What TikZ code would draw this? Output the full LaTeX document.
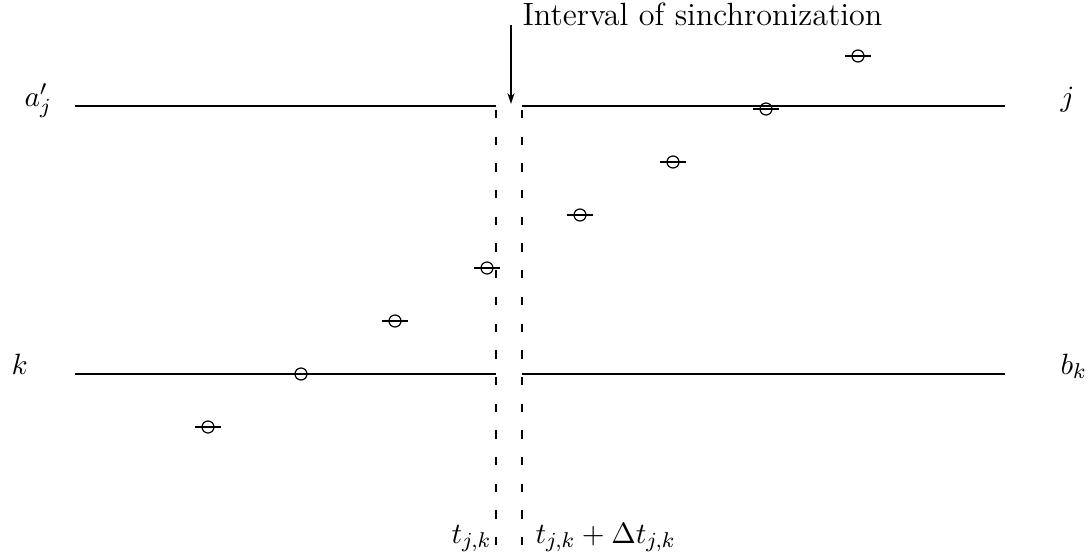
\documentclass[tikz,border=0pt]{standalone}
\usetikzlibrary{arrows.meta}
\begin{document}
\begin{tikzpicture}[x=0.3731pt,y=-0.3731pt,
  mainline/.style={line width=0.75pt},
  vdash/.style={line width=0.75pt, dash pattern=on 3.1pt off 6.86pt},
  marker/.style={circle, draw, line width=0.45pt, minimum size=12*0.3731pt, inner sep=0pt},
  bar/.style={line width=0.75pt},
  lbl/.style={inner sep=0pt, font=\fontsize{11}{13}\selectfont},
  ttl/.style={inner sep=0pt, font=\fontsize{12}{14}\selectfont}]
\useasboundingbox (0,0) rectangle (1091,559);
% line end points
\coordinate (tl1) at (75,106);
\coordinate (tl2) at (496,106);
\coordinate (tr1) at (522,106);
\coordinate (tr2) at (1005,106);
\coordinate (bl1) at (75,374);
\coordinate (bl2) at (496,374);
\coordinate (br1) at (522,374);
\coordinate (br2) at (1005,374);
\coordinate (u1) at (496,110);
\coordinate (u2) at (522,110);
\coordinate (d1) at (496,546);
\coordinate (d2) at (522,546);
\coordinate (arrS) at (511,25);
\coordinate (arrE) at (511,104);
\draw[mainline] (tl1) -- (tl2);
\draw[mainline] (tr1) -- (tr2);
\draw[mainline] (bl1) -- (bl2);
\draw[mainline] (br1) -- (br2);
\draw[vdash] (u1) -- (d1);
\draw[vdash] (u2) -- (d2);
\draw[line width=0.6pt, -{Stealth[length=4pt,width=2.6pt]}] (arrS) -- (arrE);
% markers
\foreach \i/\x/\y in {1/208/427, 2/301/374, 3/395/321, 4/487/268, 5/580/215, 6/673/162, 7/766/109, 8/858/56}{
  \node[marker] (m\i) at (\x,\y) {};
  \draw[bar] ([xshift=-13*0.3731pt]m\i.center) -- ([xshift=13*0.3731pt]m\i.center);
}
% labels
\node[ttl, anchor=base west] (title) at (522,25) {Interval of sinchronization};
\node[lbl, anchor=base west] (aj) at (24,106) {$a'_j$};
\node[lbl, anchor=base west] (jl) at (1060,106) {$j$};
\node[lbl, anchor=base west] (kl) at (11,374) {$k$};
\node[lbl, anchor=base west] (bk) at (1060,374) {$b_k$};
\node[lbl, anchor=base east] (t1) at (492,543) {$t_{j,k}$};
\node[lbl, anchor=base west] (t2) at (535,543) {$t_{j,k}+\Delta t_{j,k}$};
\end{tikzpicture}
\end{document}
